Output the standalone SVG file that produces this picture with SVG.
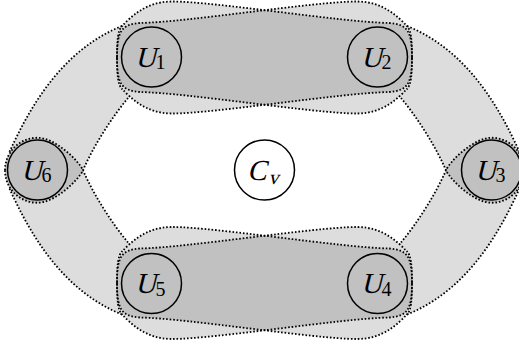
<svg xmlns="http://www.w3.org/2000/svg" xmlns:xlink="http://www.w3.org/1999/xlink" width="519" height="352" viewBox="0 0 519 352">
<style>
.light{fill:#dddddd;stroke:none}
.dark{fill:#c1c1c1;stroke:none}
.dot{fill:none;stroke:#000;stroke-width:1.8;stroke-dasharray:1.6 1.9}
.node{fill:none;stroke:#000;stroke-width:1.5}
.m{font-family:'Liberation Serif','Times New Roman',serif;font-size:29px;fill:#000;text-anchor:middle}
.s{font-family:'Liberation Serif','Times New Roman',serif;font-size:20px;fill:#000}
</style>
<defs>
<path id="A" d="M 117,57.5 C 117,40 118,30 122,26 C 130,18 145,1.5 172,1.5 C 215,1.5 340,22 389,23 C 407,24.5 412,30 412,57.5 C 412,85 407,90.5 389,92 C 340,93 215,113.5 172,113.5 C 145,113.5 130,97 122,89 C 118,85 117,75 117,57.5 Z"/>
<path id="bf" d="M 122,26 C 62,50 29.5,107.5 9,153 C 6.5,158.5 5,164 5,170.25 C 5,188.3 19.5,202.75 37.5,202.75 C 55,202.75 78.6,180 83,170.25 C 94,145 112,117 129.4,96.3 L 151.5,57 Z"/>
<path id="bs" d="M 122,26 C 62,50 29.5,107.5 9,153 M 5,170.25 C 5,188.3 19.5,202.75 37.5,202.75 C 55,202.75 78.6,180 83,170.25 C 94,145 112,117 129.4,96.3"/>
<clipPath id="cB"><use xlink:href="#A" transform="matrix(-1 0 0 1 529 0)"/></clipPath>
<clipPath id="cBb"><use xlink:href="#A" transform="matrix(-1 0 0 -1 529 340.5)"/></clipPath>
<clipPath id="c56"><use xlink:href="#bf" transform="matrix(1 0 0 -1 0 340.5)"/></clipPath>
<clipPath id="c34"><use xlink:href="#bf" transform="matrix(-1 0 0 -1 529 340.5)"/></clipPath>
</defs>
<g id="hyperedges">
<g class="light">
<use xlink:href="#A"/>
<use xlink:href="#A" transform="matrix(-1 0 0 1 529 0)"/>
<use xlink:href="#A" transform="matrix(1 0 0 -1 0 340.5)"/>
<use xlink:href="#A" transform="matrix(-1 0 0 -1 529 340.5)"/>
<use xlink:href="#bf"/>
<use xlink:href="#bf" transform="matrix(1 0 0 -1 0 340.5)"/>
<use xlink:href="#bf" transform="matrix(-1 0 0 1 529 0)"/>
<use xlink:href="#bf" transform="matrix(-1 0 0 -1 529 340.5)"/>
</g>
<g class="dark">
<g clip-path="url(#cB)"><use xlink:href="#A"/></g>
<g clip-path="url(#cBb)"><use xlink:href="#A" transform="matrix(1 0 0 -1 0 340.5)"/></g>
<g clip-path="url(#c56)"><use xlink:href="#bf"/></g>
<g clip-path="url(#c34)"><use xlink:href="#bf" transform="matrix(-1 0 0 1 529 0)"/></g>
</g>
<g class="dot">
<use xlink:href="#A"/>
<use xlink:href="#A" transform="matrix(-1 0 0 1 529 0)"/>
<use xlink:href="#A" transform="matrix(1 0 0 -1 0 340.5)"/>
<use xlink:href="#A" transform="matrix(-1 0 0 -1 529 340.5)"/>
<use xlink:href="#bs"/>
<use xlink:href="#bs" transform="matrix(1 0 0 -1 0 340.5)"/>
<use xlink:href="#bs" transform="matrix(-1 0 0 1 529 0)"/>
<use xlink:href="#bs" transform="matrix(-1 0 0 -1 529 340.5)"/>
</g>
</g>
<g id="U1"><circle class="node" cx="151.5" cy="57" r="30"/><text class="m" x="0" y="0" transform="translate(145.5,66.5) skewX(-14)">U</text><text class="s" x="155.5" y="69">1</text></g>
<g id="U2"><circle class="node" cx="377.5" cy="57" r="30"/><text class="m" x="0" y="0" transform="translate(371.5,66.5) skewX(-14)">U</text><text class="s" x="381.5" y="69">2</text></g>
<g id="U3"><circle class="node" cx="491.5" cy="170" r="30"/><text class="m" x="0" y="0" transform="translate(485.5,179.5) skewX(-14)">U</text><text class="s" x="495.5" y="182">3</text></g>
<g id="U4"><circle class="node" cx="377.5" cy="283.5" r="30"/><text class="m" x="0" y="0" transform="translate(371.5,293) skewX(-14)">U</text><text class="s" x="381.5" y="295.5">4</text></g>
<g id="U5"><circle class="node" cx="151.5" cy="283.5" r="30"/><text class="m" x="0" y="0" transform="translate(145.5,293) skewX(-14)">U</text><text class="s" x="155.5" y="295.5">5</text></g>
<g id="U6"><circle class="node" cx="37.5" cy="170" r="30"/><text class="m" x="0" y="0" transform="translate(31.5,179.5) skewX(-14)">U</text><text class="s" x="41.5" y="182">6</text></g>
<g id="Cv"><circle class="node" cx="264.5" cy="170" r="30" style="fill:#fff"/><text class="m" x="0" y="0" transform="translate(257,179.5) skewX(-14)">C</text><text class="s" x="0" y="0" transform="translate(268.5,184) skewX(-14)">v</text></g>
</svg>
